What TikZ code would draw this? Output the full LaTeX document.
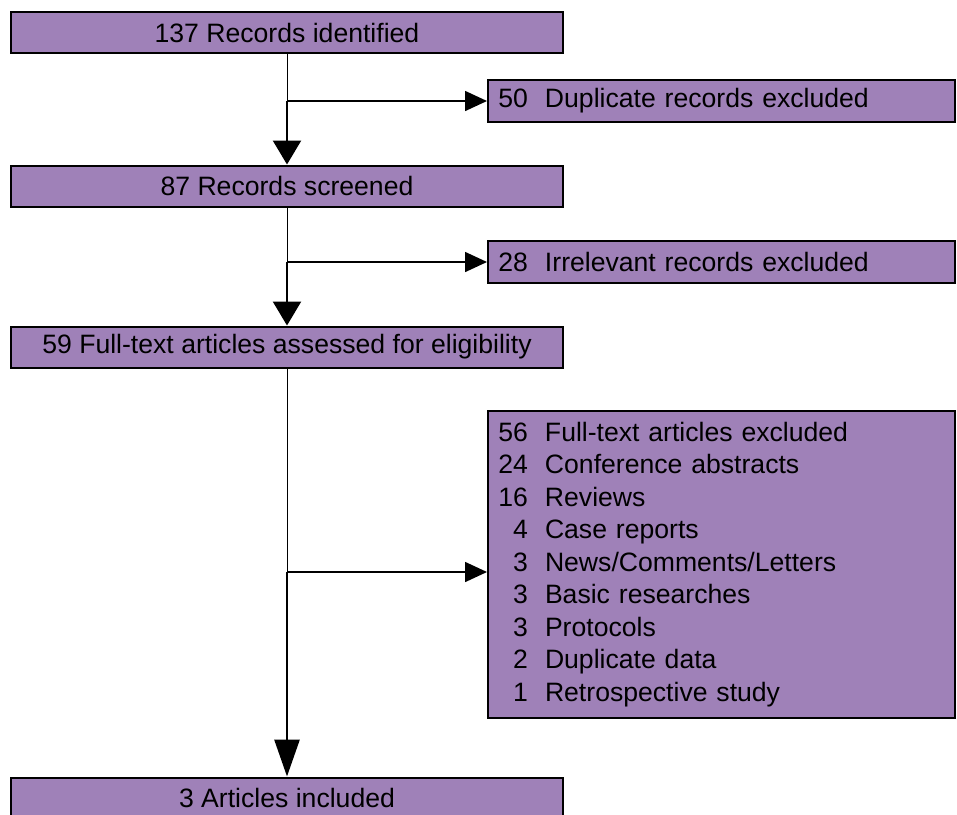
\documentclass[tikz,border=0pt]{standalone}
\usepackage{fontspec}
\setmainfont{Liberation Sans}
\usetikzlibrary{arrows.meta}
\definecolor{boxpurple}{RGB}{159,129,184}
\newcommand{\exitem}[2]{\makebox[20pt][r]{#1}\hspace{8.5pt}#2}

\begin{document}
\begin{tikzpicture}[x=0.5pt, y=-0.5pt,
		stage/.style={draw=black, line width=1pt, fill=boxpurple, minimum width=276pt, minimum height=20.5pt, inner sep=0pt, font=\fontsize{13.3}{16}\selectfont},
		excl/.style={draw=black, line width=1pt, fill=boxpurple, text width=233.5pt, align=left, inner sep=0pt, minimum height=21pt, font=\fontsize{13.3}{16.25}\selectfont},
		link/.style={line width=0.5pt},
		down/.style={line width=1.25pt, -{Triangle[width=14pt,length=12pt]}},
		longdown/.style={line width=1.4pt, -{Triangle[width=12.5pt,length=18.5pt]}},
		side/.style={line width=0.8pt, -{Triangle[width=10pt,length=11pt]}}]
	\useasboundingbox (0,0) rectangle (957,814);

	\node[stage] (rec) at (287,32.5) {137 Records identified};
	\node[stage] (scr) at (287,186) {87 Records screened};
	\node[stage] (elig) at (287,347) {59 Full-text articles assessed for eligibility};
	\node[stage] (inc) at (287,798) {3 Articles included};

	\node[excl] (dup) at (721.5,101) {\exitem{50}{Duplicate records excluded}};
	\node[excl] (irr) at (721.5,262) {\exitem{28}{Irrelevant records excluded}};
	\node[excl, minimum height=153.5pt] (exc) at (721.5,564.5) {\exitem{56}{Full-text articles excluded}\\
		\exitem{24}{Conference abstracts}\\
		\exitem{16}{Reviews}\\
		\exitem{4}{Case reports}\\
		\exitem{3}{News/Comments/Letters}\\
		\exitem{3}{Basic researches}\\
		\exitem{3}{Protocols}\\
		\exitem{2}{Duplicate data}\\
		\exitem{1}{Retrospective study}};

	\coordinate (j1) at (rec.south |- dup.west);
	\coordinate (j2) at (scr.south |- irr.west);
	\coordinate (j3) at (287,572);

	\draw[link] (rec.south) -- (j1);
	\draw[down] (j1) -- (scr.north);
	\draw[side] (j1) -- (dup.west);
	\draw[link] (scr.south) -- (j2);
	\draw[down] (j2) -- (elig.north);
	\draw[side] (j2) -- (irr.west);
	\draw[link] (elig.south) -- (j3);
	\draw[longdown] (j3) -- (inc.north);
	\draw[side] (j3) -- (j3 -| exc.west);
\end{tikzpicture}
\end{document}
